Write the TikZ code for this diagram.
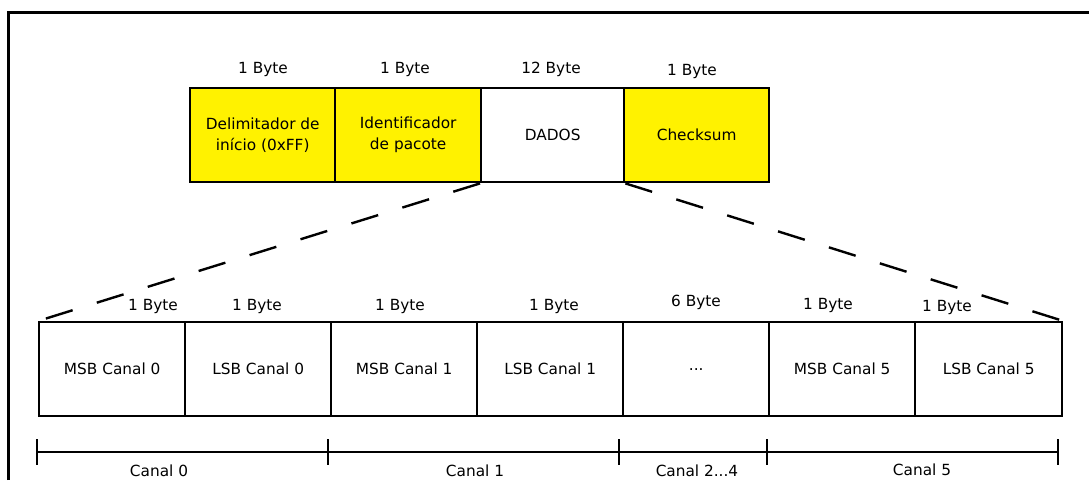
\documentclass[tikz,border=0pt]{standalone}
\usepackage{fontspec}
\setmainfont{DejaVu Sans}
\begin{document}
\begin{tikzpicture}[x=0.75pt,y=-0.75pt,
  cell/.style={draw, line width=1.8pt, minimum height=70.5pt, inner sep=0pt,
    anchor=north west, align=center, font=\fontsize{11.5}{15.75}\selectfont},
  hi/.style={fill=yellow},
  lbl/.style={inner sep=0pt, font=\fontsize{11.5}{13}\selectfont},
  dashline/.style={line width=1.8pt, dash pattern=on 21pt off 19pt},
  brk/.style={line width=1.6pt}]
\useasboundingbox (0,0) rectangle (1089,480);
% frame
\draw[line width=2.25pt] (8,480) -- (8,12) -- (1089,12);
% top packet
\node[cell,hi,minimum width=108.75pt] (del) at (189,87) {Delimitador de\\início (0xFF)};
\node[cell,hi,minimum width=109.5pt] (ide) at (334,87) {Identificador\\de pacote};
\node[cell,minimum width=107.25pt] (dad) at (480,87) {DADOS};
\node[cell,hi,minimum width=108.75pt] (chk) at (623,87) {Checksum};
\node[lbl] (tl1) at (263,69) {1 Byte};
\node[lbl] (tl2) at (405,69) {1 Byte};
\node[lbl] (tl3) at (551,69) {12 Byte};
\node[lbl] (tl4) at (692,71) {1 Byte};
% bottom data
\node[cell,minimum width=109.5pt] (b1) at (38,321) {MSB Canal 0};
\node[cell,minimum width=109.5pt] (b2) at (184,321) {LSB Canal 0};
\node[cell,minimum width=109.5pt] (b3) at (330,321) {MSB Canal 1};
\node[cell,minimum width=109.5pt] (b4) at (476,321) {LSB Canal 1};
\node[cell,minimum width=109.5pt] (b5) at (622,321) {...};
\node[cell,minimum width=109.5pt] (b6) at (768,321) {MSB Canal 5};
\node[cell,minimum width=110.25pt] (b7) at (914,321) {LSB Canal 5};
\node[lbl] (bl1) at (153,306) {1 Byte};
\node[lbl] (bl2) at (257,306) {1 Byte};
\node[lbl] (bl3) at (400,306) {1 Byte};
\node[lbl] (bl4) at (554,306) {1 Byte};
\node[lbl] (bl5) at (696,302) {6 Byte};
\node[lbl] (bl6) at (828,305) {1 Byte};
\node[lbl] (bl7) at (947,307) {1 Byte};
% zoom lines
\draw[dashline] (dad.south west) -- (b1.north west);
\draw[dashline] (dad.south east) -- (b7.north east);
% brackets
\coordinate (k0) at (37,452);
\coordinate (k1) at (328,452);
\coordinate (k2) at (619,452);
\coordinate (k3) at (767,452);
\coordinate (k4) at (1058,452);
\draw[brk] (k0) -- (k4);
\foreach \k in {k0,k1,k2,k3,k4}
  \draw[brk] ([yshift=9.75pt]\k) -- ([yshift=-9.75pt]\k);
\node[lbl] (c0) at (159,471) {Canal 0};
\node[lbl] (c1) at (475,471) {Canal 1};
\node[lbl] (c2) at (697,471) {Canal 2...4};
\node[lbl] (c5) at (922,470) {Canal 5};
\end{tikzpicture}
\end{document}
